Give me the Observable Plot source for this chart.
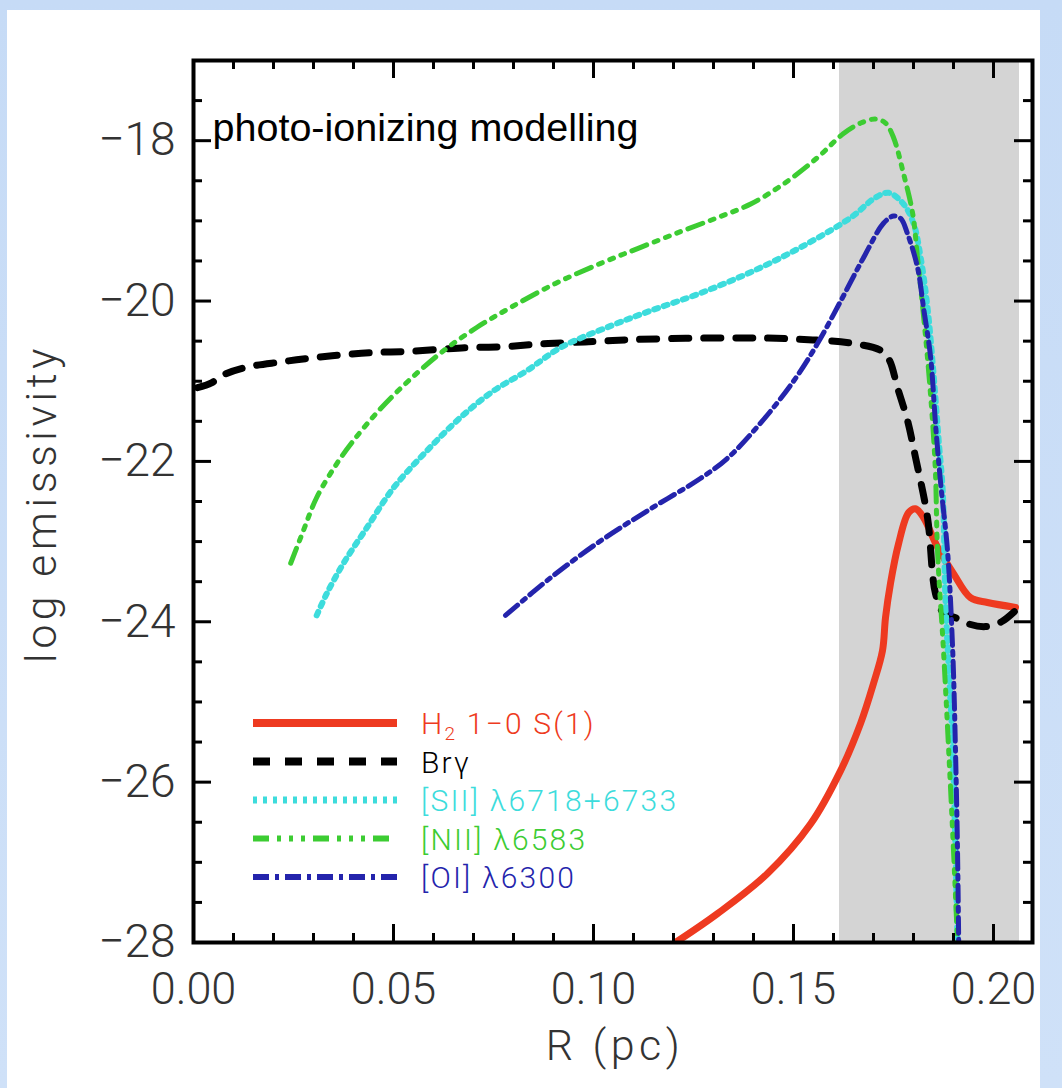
<!DOCTYPE html>
<html><head><meta charset="utf-8">
<script src="https://cdn.jsdelivr.net/npm/d3@7"></script>
<script src="https://cdn.jsdelivr.net/npm/@observablehq/plot@0.6"></script>
<style>
html,body{margin:0;padding:0;}
body{width:1062px;height:1088px;position:relative;overflow:hidden;background:linear-gradient(180deg,#c6dbf6,#cfe1f8);}
#page{position:absolute;left:7px;top:10px;width:1033px;height:1078px;background:#fff;}
#chart{position:absolute;left:0;top:0;}
</style></head>
<body>
<div id="page"></div>
<div id="chart"></div>
<script>
// ---- data ----
const titleText = "photo-ionizing modelling";
const xLabel = "R (pc)";
const yLabel = "log emissivity";
const xMajor = [0, 0.05, 0.10, 0.15, 0.20];
const yMajor = [-28, -26, -24, -22, -20, -18];
const shadedRegion = [0.1615, 0.2065];

const h2R = [0.1205,0.131,0.1435,0.1543,0.16175,0.16675,0.17,0.17225,0.173,0.17425,0.17625,0.17875,0.1805,0.1825,0.186,0.19,0.19425,0.1985,0.2055];
const h2Y = [-28.0,-27.64,-27.14,-26.52,-25.86,-25.27,-24.77,-24.36,-23.95,-23.52,-23.03,-22.64,-22.59,-22.70,-23.07,-23.40,-23.70,-23.76,-23.82];

const brgR = [0.001,0.0045,0.0075,0.0138,0.0218,0.0295,0.0375,0.0455,0.053,0.062,0.069,0.0775,0.0855,0.093,0.102,0.11,0.1335,0.1485,0.165,0.172,0.174,0.176,0.1785,0.1805,0.1835,0.1855,0.1875,0.1905,0.194,0.198,0.202,0.2055];
const brgY = [-21.08,-21.02,-20.92,-20.82,-20.76,-20.71,-20.67,-20.64,-20.63,-20.60,-20.58,-20.57,-20.54,-20.52,-20.50,-20.48,-20.46,-20.47,-20.53,-20.62,-20.74,-21.08,-21.49,-21.95,-22.70,-23.65,-23.89,-23.95,-24.03,-24.06,-24.00,-23.86];

const siiR = [0.0308,0.0333,0.0375,0.0433,0.05,0.0583,0.0668,0.075,0.0833,0.0918,0.1043,0.1143,0.1268,0.1393,0.1518,0.1643,0.1705,0.1738,0.1775,0.18,0.1818,0.1835,0.185,0.1863,0.1873,0.188,0.1898,0.191];
const siiY = [-23.92,-23.65,-23.27,-22.83,-22.33,-21.87,-21.45,-21.12,-20.87,-20.58,-20.31,-20.12,-19.90,-19.64,-19.33,-18.96,-18.71,-18.65,-18.79,-19.03,-19.46,-20.08,-20.90,-21.74,-22.36,-23.74,-25.61,-28.0];

const niiR = [0.0243,0.0275,0.0308,0.0358,0.04,0.0468,0.0543,0.0625,0.0708,0.0793,0.0905,0.1018,0.1118,0.1225,0.131,0.1393,0.1475,0.156,0.1625,0.1668,0.1705,0.173,0.175,0.1775,0.1798,0.181,0.1823,0.1835,0.1848,0.1855,0.186,0.1875,0.1888,0.19,0.191];
const niiY = [-23.27,-22.86,-22.45,-22.03,-21.74,-21.34,-20.97,-20.62,-20.33,-20.08,-19.78,-19.53,-19.33,-19.12,-18.96,-18.79,-18.54,-18.21,-17.91,-17.78,-17.73,-17.78,-17.96,-18.41,-18.91,-19.46,-20.08,-20.71,-21.53,-22.15,-23.11,-24.36,-25.61,-26.85,-28.0];

const oiR = [0.078,0.0893,0.1018,0.1143,0.1268,0.1335,0.1418,0.15,0.156,0.1618,0.1675,0.1725,0.175,0.1768,0.1785,0.181,0.1825,0.1843,0.1855,0.1868,0.1885,0.1898,0.1905,0.191,0.1913];
const oiY = [-23.92,-23.45,-22.99,-22.59,-22.21,-21.96,-21.52,-21.0,-20.53,-20.0,-19.46,-19.03,-18.94,-18.97,-19.16,-19.58,-20.08,-20.71,-21.53,-22.28,-23.11,-24.36,-25.61,-26.85,-28.0];

const seriesNames = ["H2 1-0 S(1)", "Brγ", "[SII] λ6718+6733", "[NII] λ6583", "[OI] λ6300"];
const seriesColors = ["#ee3a20", "#000000", "#3ddcdc", "#3ccc32", "#2424ac"];
const seriesWidths = [7, 7, 6, 5, 5];
const seriesDash = ["none", "17,15", "4,6", "16,8,4,8,4,8,4,8", "16,6,4,6"];

// ---- layout ----
const W = 1062, H = 1088, mL = 193, mR = 30, mT = 60, mB = 146;
const fw = W - mL - mR, fh = H - mT - mB;
const majLen = 18, minLen = 9;
const tickFont = "Roboto, 'DejaVu Sans', sans-serif";

const xMinor = d3.range(1, 21).map(i => i / 100).filter(v => !xMajor.some(m => Math.abs(m - v) < 1e-9));
const yMinor = d3.range(-27.5, -17, 0.5).filter(v => !yMajor.includes(v));

const toRows = (xs, ys) => xs.map((x, i) => ({x, y: ys[i]}));
const curves = [toRows(h2R, h2Y), toRows(brgR, brgY), toRows(siiR, siiY), toRows(niiR, niiY), toRows(oiR, oiY)];
const drawOrder = [0, 1, 2, 3, 4];

const tickStyle = {stroke: "black", strokeWidth: 3};

const plot = Plot.plot({
  width: W, height: H,
  marginLeft: mL, marginRight: mR, marginTop: mT, marginBottom: mB,
  x: {domain: [0, fw / 4000], axis: null},
  y: {domain: [-28, -17], axis: null},
  style: {background: "transparent", overflow: "visible"},
  marks: [
    Plot.rect([shadedRegion], {x1: d => d[0], x2: d => d[1], fill: "#d4d4d4"}),
    ...drawOrder.map(i => Plot.line(curves[i], {
      x: "x", y: "y", curve: "catmull-rom", stroke: seriesColors[i],
      strokeWidth: seriesWidths[i], strokeDasharray: seriesDash[i] === "none" ? null : seriesDash[i],
      strokeLinejoin: "round", clip: true
    })),
    // ticks (inward, all four sides)
    Plot.tickX(xMajor, {x: d => d, insetTop: fh - majLen, ...tickStyle}),
    Plot.tickX(xMinor, {x: d => d, insetTop: fh - minLen, ...tickStyle}),
    Plot.tickX(xMajor, {x: d => d, insetBottom: fh - majLen, ...tickStyle}),
    Plot.tickX(xMinor, {x: d => d, insetBottom: fh - minLen, ...tickStyle}),
    Plot.tickY(yMajor, {y: d => d, insetRight: fw - majLen, ...tickStyle}),
    Plot.tickY(yMinor, {y: d => d, insetRight: fw - minLen, ...tickStyle}),
    Plot.tickY(yMajor, {y: d => d, insetLeft: fw - majLen, ...tickStyle}),
    Plot.tickY(yMinor, {y: d => d, insetLeft: fw - minLen, ...tickStyle}),
    Plot.frame({stroke: "black", strokeWidth: 4}),
    // tick labels
    Plot.text(xMajor, {x: d => d, frameAnchor: "bottom", dy: 30, lineAnchor: "top", textAnchor: "middle",
      text: d => d3.format(".2f")(d), fontSize: 45, fontFamily: tickFont, fontWeight: 300, fill: "#333"}),
    Plot.text(yMajor, {y: d => d, frameAnchor: "left", dx: -18, textAnchor: "end", lineAnchor: "middle",
      text: d => d3.format("d")(d), fontSize: 46, fontFamily: tickFont, fontWeight: 300, fill: "#333"}),
    // axis titles
    Plot.text([xLabel], {frameAnchor: "bottom", dy: 117, dx: 2, lineAnchor: "bottom", textAnchor: "middle", text: d => d,
      fontSize: 43, fontFamily: tickFont, fontWeight: 300, fill: "#333"}),
    Plot.text([yLabel], {frameAnchor: "left", dx: -138, dy: 2, rotate: -90, lineAnchor: "bottom", textAnchor: "middle", text: d => d,
      fontSize: 43, fontFamily: tickFont, fontWeight: 300, fill: "#333"}),
    // title
    Plot.text([titleText], {frameAnchor: "top-left", dx: 19, dy: 80, lineAnchor: "bottom", textAnchor: "start",
      text: d => d, fontSize: 39.5, fontFamily: "'Liberation Sans', Arial, sans-serif", fill: "black"})
  ]
});
document.getElementById("chart").append(plot);

// wider letter spacing for the axis titles (Hershey-like look)
d3.select(plot).selectAll("text")
  .filter(function() { return this.textContent === xLabel || this.textContent === yLabel; })
  .attr("letter-spacing", 4.5);

// ---- legend ----
const svg = d3.select(plot);
const lg = svg.append("g").attr("text-anchor", "start");
const legX1 = 253, legX2 = 397, legTextX = 421, legY0 = 723, legStep = 38.5;
seriesNames.forEach((name, i) => {
  const y = legY0 + i * legStep;
  lg.append("line").attr("x1", legX1).attr("x2", legX2).attr("y1", y).attr("y2", y)
    .attr("stroke", seriesColors[i]).attr("stroke-width", seriesWidths[i] + 1)
    .attr("stroke-dasharray", seriesDash[i]);
  const t = lg.append("text").attr("x", legTextX).attr("y", y + 11).attr("text-anchor", "start")
    .attr("fill", seriesColors[i]).attr("font-family", tickFont).attr("font-weight", 300)
    .attr("font-size", 30).attr("letter-spacing", 2.2);
  if (i === 0) {
    t.append("tspan").text("H");
    t.append("tspan").attr("dy", 6).attr("font-size", 19).text("2");
    t.append("tspan").attr("dy", -6).text(" 1−0 S(1)");
  } else {
    t.text(name);
  }
});
</script>
</body></html>
